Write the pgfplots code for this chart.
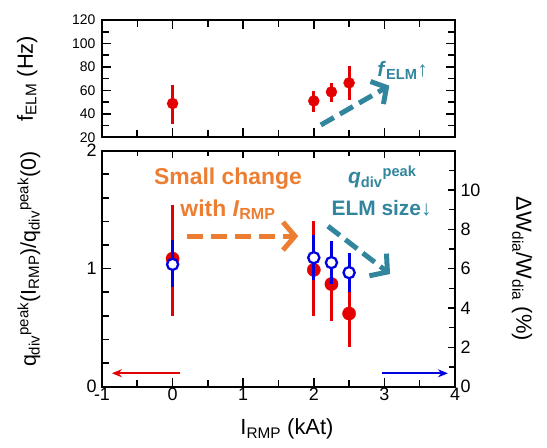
\documentclass[border=0pt]{standalone}
\usepackage{fontspec}
\setmainfont{Liberation Sans}
\usepackage{pgfplots}
\pgfplotsset{compat=1.18}
\usetikzlibrary{arrows.meta}
\definecolor{rred}{RGB}{228,0,0}
\definecolor{bblue}{RGB}{0,0,225}
\definecolor{oorange}{RGB}{237,125,49}
\definecolor{tteal}{RGB}{49,133,156}
\pgfplotsset{/pgf/number format/assume math mode=true}
\pgfplotsset{
  myax/.style={scale only axis, width=353bp, xmin=-1, xmax=4, anchor=south west,
    axis line style={line width=2.2bp, line cap=rect},
    xtick={-1,0,...,4}, minor xtick={-0.5,0.5,1.5,2.5,3.5},
  },
  errs/.style={error bars/.cd, y dir=both, y explicit, error mark=none,
    error bar style={line width=3bp, #1}},
}
\begin{document}
\begin{tikzpicture}
\useasboundingbox (0,0) rectangle (547bp,448bp);
% ---------- top panel: bottom/left lines ----------
\begin{axis}[myax, at={(102bp,310.7bp)}, height=117.3bp,
  axis x line*=bottom, axis y line*=left,
  tick align=inside, tick style={draw=black, line width=1.6bp}, major tick length=9bp, minor tick length=7bp,
  ymin=20, ymax=120, ytick={20,40,...,120}, minor ytick={30,50,...,110},
  xticklabels={},
  ticklabel style={font=\fontsize{14}{16}\selectfont},
  yticklabel style={xshift=-3bp},
  ylabel={f\textsubscript{ELM} (Hz)},
  ylabel style={at={(axis description cs:-0.212,0.5)}, anchor=center,
    font=\fontsize{22}{26}\selectfont}]
\addplot[only marks, mark=*, mark size=5.5bp, color=rred, errs=rred] coordinates {
(0,48.8) += (0,15.6) -= (0,17.1)
(2,51.0) += (0,8.6) -= (0,9.4)
(2.25,58.7) += (0,7.7) -= (0,8.5)
(2.5,66.4) += (0,14.3) -= (0,14.8)
};
\draw[tteal, line width=5bp, dash pattern=on 15bp off 7bp,
  -{Straight Barb[length=11bp, width=26bp]}] (axis cs:2.1,30.5) -- (axis cs:3.07,64);
\node[anchor=west, text=tteal, font=\bfseries\fontsize{21}{24}\selectfont]
  at (axis cs:2.85,77) {\textit{f}\textsubscript{ELM}{\mdseries↑}};
\end{axis}
% ---------- top panel: top/right lines ----------
\begin{axis}[myax, at={(102bp,310.7bp)}, height=117.3bp,
  axis x line*=top, axis y line*=right,
  tick align=inside, tick style={draw=black, line width=1.6bp}, major tick length=9bp, minor tick length=7bp,
  ymin=20, ymax=120, ytick={20,40,...,120}, minor ytick={30,50,...,110},
  xticklabels={}, yticklabels={}]
\end{axis}
% ---------- bottom panel, left axis ----------
\begin{axis}[myax, at={(102bp,61.3bp)}, height=236bp,
  axis x line*=bottom, axis y line*=left,
  tick align=inside, tick style={draw=black, line width=1.6bp}, major tick length=9bp, minor tick length=7bp,
  ymin=0, ymax=2, ytick={0,1,2}, minor ytick={0.2,0.4,0.6,0.8,1.2,1.4,1.6,1.8},
  ticklabel style={font=\fontsize{18}{20}\selectfont},
  yticklabel style={xshift=-2bp},
  xticklabel style={yshift=2bp},
  xlabel={I\textsubscript{RMP} (kAt)},
  xlabel style={at={(axis description cs:0.524,-0.18)}, anchor=center,
    font=\fontsize{22}{26}\selectfont},
  ylabel={q\textsubscript{div}\textsuperscript{peak}(I\textsubscript{RMP})/q\textsubscript{div}\textsuperscript{peak}(0)},
  ylabel style={at={(axis description cs:-0.207,0.54)}, anchor=center,
    font=\fontsize{21.5}{26}\selectfont}]
\addplot[only marks, mark=*, mark size=6.6bp, color=rred, errs=rred] coordinates {
(0,1.085) += (0,0.455) -= (0,0.485)
(2,0.99) += (0,0.41) -= (0,0.39)
(2.25,0.87) += (0,0.31) -= (0,0.31)
(2.5,0.62) += (0,0.28) -= (0,0.285)
};
\draw[rred, line width=2.2bp, -{Stealth[length=10bp, width=8bp]}]
  (axis cs:0.11,0.114) -- (axis cs:-0.86,0.114);
\draw[oorange, line width=5bp, dash pattern=on 16bp off 8bp,
  -{Straight Barb[length=12bp, width=28bp]}] (axis cs:0.21,1.276) -- (axis cs:1.78,1.276);
\node[text=oorange, font=\bfseries\fontsize{23}{26}\selectfont]
  at (axis cs:0.785,1.767) {Small change};
\node[text=oorange, font=\bfseries\fontsize{23}{26}\selectfont]
  at (axis cs:0.785,1.50) {with \textit{I}\textsubscript{RMP}};
\draw[tteal, line width=5bp, dash pattern=on 15bp off 7bp,
  -{Straight Barb[length=12bp, width=28bp]}] (axis cs:2.2,1.36) -- (axis cs:3.08,0.955);
\node[text=tteal, font=\bfseries\fontsize{21}{24}\selectfont]
  at (axis cs:2.97,1.78) {\textit{q}\textsubscript{div}\textsuperscript{peak}};
\node[text=tteal, font=\bfseries\fontsize{21}{24}\selectfont]
  at (axis cs:2.96,1.51) {ELM size{\mdseries↓}};
\end{axis}
% ---------- bottom panel, right axis ----------
\begin{axis}[myax, at={(102bp,61.3bp)}, height=236bp,
  axis x line*=top, axis y line*=right,
  tick align=inside, tick style={draw=black, line width=1.6bp}, major tick length=7bp, minor tick length=5.5bp,
  xticklabels={},
  ymin=0, ymax=12,
  ytick={0,2,...,10}, minor ytick={1,3,...,11},
  ticklabel style={font=\fontsize{18}{20}\selectfont},
  yticklabel style={xshift=2bp},
  ylabel={ΔW\textsubscript{dia}/W\textsubscript{dia} (\%)},
  ylabel style={at={(axis description cs:1.19,0.5)}, anchor=center, rotate=180,
    font=\fontsize{22}{26}\selectfont}]
\addplot[only marks, mark=*, mark size=5.6bp, color=bblue,
  mark options={fill=white, draw=bblue, line width=2.3bp}, errs=bblue] coordinates {
(0,6.22) += (0,1.23) -= (0,1.16)
(2,6.56) += (0,1.15) -= (0,1.13)
(2.25,6.31) += (0,1.11) -= (0,1.10)
(2.5,5.80) += (0,0.98) -= (0,0.97)
};
\draw[bblue, line width=2.2bp, -{Stealth[length=10bp, width=8bp]}]
  (axis cs:2.96,0.68) -- (axis cs:3.9,0.68);
\end{axis}
\end{tikzpicture}
\end{document}
